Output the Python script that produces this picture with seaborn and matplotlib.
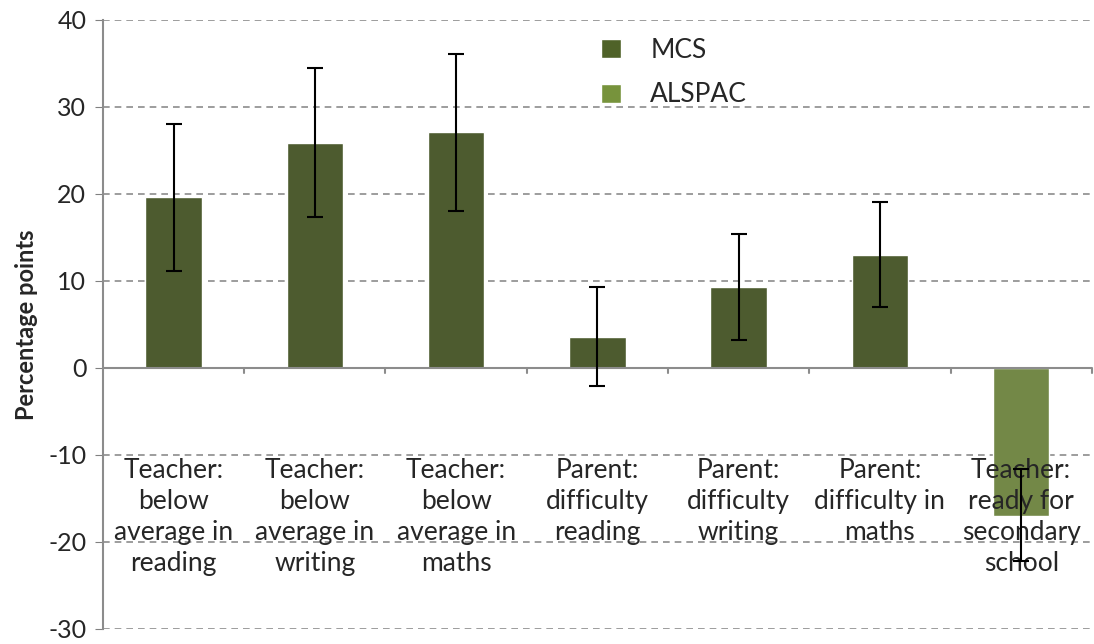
import numpy as np
import pandas as pd
import matplotlib.pyplot as plt
import seaborn as sns
from matplotlib.patches import Patch

categories = [
    "Teacher:\nbelow\naverage in\nreading",
    "Teacher:\nbelow\naverage in\nwriting",
    "Teacher:\nbelow\naverage in\nmaths",
    "Parent:\ndifficulty\nreading",
    "Parent:\ndifficulty\nwriting",
    "Parent:\ndifficulty in\nmaths",
    "Teacher:\nready for\nsecondary\nschool",
]
study = ["MCS", "MCS", "MCS", "MCS", "MCS", "MCS", "ALSPAC"]
values = [19.6, 25.9, 27.1, 3.6, 9.3, 13.0, -17.0]
ci_low = [11.2, 17.3, 18.1, -2.1, 3.2, 7.0, -22.2]
ci_high = [28.0, 34.5, 36.1, 9.3, 15.4, 19.1, -11.6]
colors = {"MCS": "#4F6228", "ALSPAC": "#77933C"}

df = pd.DataFrame({"cat": categories, "value": values, "study": study})

sns.set_style("white")
plt.rcParams["font.family"] = ["Lato", "DejaVu Sans"]
plt.rcParams["axes.unicode_minus"] = False

fig = plt.figure(figsize=(10.94, 6.44), dpi=100)
ax = fig.add_axes([0.0941, 0.0233, 0.9039, 0.9457])

sns.barplot(data=df, x="cat", y="value", hue="study", palette=colors,
            dodge=False, width=0.4, ax=ax, legend=False, zorder=3)

x = np.arange(len(categories))
vals = np.array(values)
yerr = [vals - np.array(ci_low), np.array(ci_high) - vals]
ax.errorbar(x, vals, yerr=yerr, fmt="none", ecolor="black", elinewidth=1.5,
            capsize=6, capthick=1.5, zorder=5)

ax.set_xlim(-0.5, len(categories) - 0.5)
ax.set_ylim(-30, 40)
ax.set_yticks(np.arange(-30, 41, 10))
ax.set_xticks([])
ax.set_xlabel("")
ax.set_ylabel("Percentage points", fontsize=17, fontweight="bold", labelpad=7)
ax.tick_params(axis="y", labelsize=18, length=6, color="#808080", direction="out",
               left=True, pad=6)

for y in np.arange(-30, 41, 10):
    if y != 0:
        ax.axhline(y, color="#8c8c8c", lw=1.2, ls=(0, (4, 3)), zorder=1)
ax.axhline(0, color="#8c8c8c", lw=1.5, zorder=4)
for b in np.arange(0.5, len(categories) - 0.5 + 1e-9, 1.0):
    ax.plot([b, b], [0, -0.6], color="#8c8c8c", lw=1.5, zorder=4, clip_on=False)

for s in ["top", "right", "bottom"]:
    ax.spines[s].set_visible(False)
ax.spines["left"].set_color("#8c8c8c")
ax.spines["left"].set_linewidth(1.5)

# category labels sit inside the plot, below the -10 line
for xi, lab in zip(x, categories):
    ax.text(xi, -10.4, lab, ha="center", va="top", fontsize=19,
            linespacing=1.3, zorder=3.5)

handles = [Patch(facecolor=colors[k], label=k) for k in ["MCS", "ALSPAC"]]
ax.legend(handles=handles, loc="upper left", bbox_to_anchor=(0.48, 1.01),
          frameon=False, fontsize=19, handlelength=0.75, handleheight=0.75,
          handletextpad=1.1, labelspacing=0.75)

fig.savefig("out.png", dpi=100)
